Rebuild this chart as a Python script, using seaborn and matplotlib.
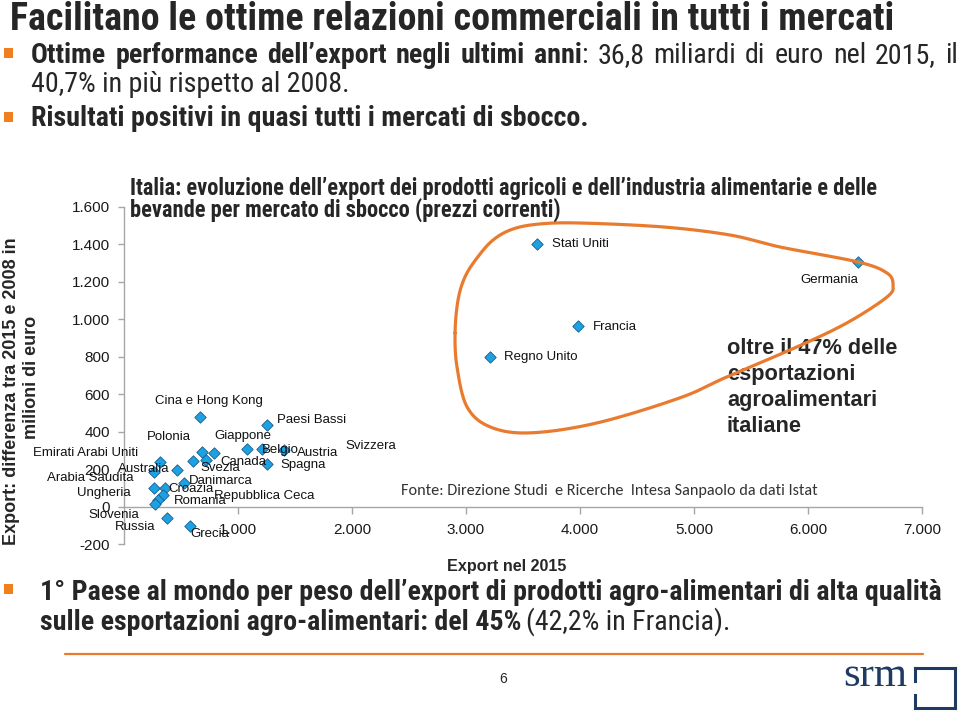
import os
import matplotlib
matplotlib.use("Agg")
import numpy as np
import pandas as pd
import matplotlib.pyplot as plt
import seaborn as sns
from matplotlib import font_manager as fm
from matplotlib.font_manager import FontProperties
from matplotlib.lines import Line2D
from matplotlib.patches import Rectangle

# ---------------- data ----------------
countries = ["Germania", "Francia", "Stati Uniti", "Regno Unito",
             "Cina e Hong Kong", "Paesi Bassi", "Belgio", "Austria", "Svizzera",
             "Polonia", "Giappone", "Emirati Arabi Uniti", "Svezia", "Canada",
             "Spagna", "Australia", "Arabia Saudita", "Danimarca", "Ungheria",
             "Croazia", "Romania", "Repubblica Ceca", "Slovenia", "Russia", "Grecia"]
export_2015 = [6440, 3985, 3625, 3210,
               667, 1257, 1082, 1213, 1404,
               682, 789, 316, 603, 719,
               1252, 462, 266, 526, 266,
               360, 339, 301, 272, 375, 579]
diff_2015_2008 = [1307, 964, 1399, 797,
                  477, 436, 306, 306, 299,
                  290, 288, 237, 244, 249,
                  228, 196, 182, 124, 98,
                  98, 62, 36, 14, -59, -103]
x_ticks = [1000, 2000, 3000, 4000, 5000, 6000, 7000]
x_tick_labels = ["1.000", "2.000", "3.000", "4.000", "5.000", "6.000", "7.000"]
y_ticks = [-200, 0, 200, 400, 600, 800, 1000, 1200, 1400, 1600]
y_tick_labels = ["-200", "0", "200", "400", "600", "800", "1.000", "1.200", "1.400", "1.600"]

# label offsets (pixels, left/center anchor) -- layout only
label_offsets = [(-57.6, 18.3), (14.4, 0.7), (14.4, 0), (14, 0),
                 (-45, -16.3), (9.4, -5), (14.4, 0.7), (34.4, 4), (61, -4),
                 (-55, -15), (0, -16.7), (-126.7, -9), (7.3, 7.3), (14, 1.7),
                 (14, 1), (-58.4, -1), (-107.6, 5.6), (5.3, -2.3), (-77.6, 5),
                 (3.3, 1), (11.3, 5.7), (55.7, -3.3), (-66.7, 11), (-51.7, 9), (0.7, 8.3)]

# highlight outline anchor points (data coords, decorative)
outline = [(2904, 926), (2930, 1102), (2991, 1225), (3096, 1326), (3237, 1422),
           (3412, 1481), (3649, 1508), (4000, 1513), (4728, 1492), (5316, 1449),
           (5754, 1385), (6439, 1305), (6693, 1246), (6746, 1182), (6693, 1118),
           (6342, 980), (5904, 852), (5289, 692), (4877, 580), (4149, 446),
           (3561, 393), (3211, 425), (3009, 532), (2921, 745)]

# ---------------- fonts ----------------
sns.set_theme(style="white")
ARIAL = "Liberation Sans"
plt.rcParams["font.family"] = [ARIAL, "DejaVu Sans"]

narrow_files = []
for f in fm.fontManager.ttflist:
    b = os.path.basename(f.fname)
    if ("narrow" in b.lower() or "condensed" in b.lower()) and "italic" not in b.lower() \
            and "oblique" not in b.lower():
        narrow_files.append((f.name, b, f.fname, f.weight))


def pick_narrow():
    for pref in ["Liberation Sans Narrow", "Arial Narrow", "Roboto Condensed", "Open Sans Condensed"]:
        reg = bold = None
        for name, b, path, wt in narrow_files:
            if name != pref:
                continue
            lb = b.lower()
            isbold = "bold" in lb and "semi" not in lb and "extra" not in lb
            isreg = ("regular" in lb or lb.endswith("narrow.ttf") or lb.endswith("condensed.ttf")
                     or "-condensed." in lb) and "bold" not in lb and "light" not in lb \
                and "medium" not in lb and "thin" not in lb and "black" not in lb
            if isbold and bold is None:
                bold = path
            if isreg and reg is None:
                reg = path
        if reg and bold:
            return FontProperties(fname=reg), FontProperties(fname=bold)
    return FontProperties(family=ARIAL), FontProperties(family=ARIAL, weight="bold")


NARROW_R, NARROW_B = pick_narrow()
CAL = "Carlito" if any(f.name == "Carlito" for f in fm.fontManager.ttflist) else "Lato"

W, H = 960, 712
fig = plt.figure(figsize=(9.6, 7.12), dpi=100)
fig.patch.set_facecolor("white")
renderer = fig.canvas.get_renderer()

ORANGE = "#E97B2E"


def fx(x):
    return x / W


def fy(y):
    return 1 - y / H


def text_w(t):
    return t.get_window_extent(renderer).width


def mkprops(family, weight):
    if family == "NARROW":
        return (NARROW_B if weight == "bold" else NARROW_R).copy()
    return FontProperties(family=[family, "DejaVu Sans"], weight=weight)


def put(x, y, s, size, family, weight="normal", ha="left", va="center", **kw):
    fp = mkprops(family, weight)
    fp.set_size(size)
    return fig.text(fx(x), fy(y), s, fontproperties=fp, ha=ha, va=va, **kw)


def fit(x, y, s, width, family, weight="normal", ha="left", va="center", rotation=0, **kw):
    t = put(x, y, s, 20, family, weight, ha=ha, va=va, **kw)
    w = text_w(t)
    size = 20 * width / w
    t.set_fontsize(size)
    t.set_rotation(rotation)
    return t, size


def baseline(yc, size):
    return yc + 0.35 * size * 100 / 72


# ---------------- axes ----------------
x0, x1 = 124, 922
y_top, y_bot = 206.7, 544
ax = fig.add_axes([fx(x0), fy(y_bot), (x1 - x0) / W, (y_bot - y_top) / H])
ax.patch.set_alpha(0)

df = pd.DataFrame({"paese": countries, "export": export_2015, "diff": diff_2015_2008})
sns.scatterplot(data=df, x="export", y="diff", marker="D", s=34, color="#1CA2E2",
                edgecolor="#1F5A8A", linewidth=0.6, ax=ax, zorder=3, legend=False)

ax.set_xlim(0, 7000)
ax.set_ylim(-200, 1600)
for sp in ["top", "right"]:
    ax.spines[sp].set_visible(False)
ax.spines["bottom"].set_position(("data", 0))
for sp in ["left", "bottom"]:
    ax.spines[sp].set_color("#A6A6A6")
    ax.spines[sp].set_linewidth(1.0)
ax.set_xticks(x_ticks)
ax.set_xticklabels(x_tick_labels)
ax.set_yticks(y_ticks)
ax.set_yticklabels(y_tick_labels)
ax.tick_params(axis="x", direction="out", length=5, width=1, color="#A6A6A6", pad=7,
               labelsize=11, labelcolor="#1A1A1A")
ax.tick_params(axis="y", direction="out", length=4, width=1, color="#A6A6A6", pad=6,
               labelsize=11, labelcolor="#1A1A1A")
ax.tick_params(left=True, bottom=True)
ax.set_xlabel("")
ax.set_ylabel("")
ax.grid(False)

for name, xv, yv, (dx, dy) in zip(countries, export_2015, diff_2015_2008, label_offsets):
    ax.annotate(name, (xv, yv), xytext=(dx, -dy), textcoords="offset pixels",
                ha="left", va="center", fontsize=9.5, color="#111111",
                family=[ARIAL, "DejaVu Sans"], annotation_clip=False, zorder=4)


# closed smooth outline (Catmull-Rom)
def closed_cr(pts, n=24):
    P = np.asarray(pts, dtype=float)
    m = len(P)
    segs = []
    t = np.linspace(0, 1, n, endpoint=False)[:, None]
    for i in range(m):
        p0, p1, p2, p3 = P[i - 1], P[i], P[(i + 1) % m], P[(i + 2) % m]
        segs.append(0.5 * (2 * p1 + (-p0 + p2) * t + (2 * p0 - 5 * p1 + 4 * p2 - p3) * t ** 2
                           + (-p0 + 3 * p1 - 3 * p2 + p3) * t ** 3))
    out = np.vstack(segs)
    return np.vstack([out, out[:1]])


curve = closed_cr(outline)
ax.plot(curve[:, 0], curve[:, 1], color=ORANGE, lw=2.3, zorder=6, clip_on=False)

# ---------------- slide texts ----------------
title, _ = fit(10, 29.5, "Facilitano le ottime relazioni commerciali in tutti i mercati", 880,
               "NARROW", weight="bold", va="baseline")

# bullet font size from bottom bullet line
b1, SB = fit(40, 592, "1° Paese al mondo per peso dell’export di prodotti agro-alimentari di alta qualità",
             898, "NARROW", weight="bold")

# line 2 of bottom bullet (mixed styles, shared baseline)
yb = baseline(620, SB)
tb = put(40, yb, "sulle esportazioni agro-alimentari: del 45%", SB, "NARROW", weight="bold",
         va="baseline")
wb = text_w(tb)
put(40 + wb + 0.2 * SB, yb, "(42,2% in Francia).", SB, "NARROW", va="baseline")

# bullet 1 line 1 justified
tokens = [[("Ottime", "bold")], [("performance", "bold")], [("dell’export", "bold")],
          [("negli", "bold")], [("ultimi", "bold")], [("anni", "bold"), (":", "normal")],
          [("36,8", "normal")], [("miliardi", "normal")], [("di", "normal")],
          [("euro", "normal")], [("nel", "normal")], [("2015,", "normal")], [("il", "normal")]]
y1 = baseline(53, SB)
made = []
total = 0
for tok in tokens:
    parts = []
    for s, wgt in tok:
        t = put(0, y1, s, SB, "NARROW", weight=wgt, va="baseline")
        w = text_w(t)
        parts.append((t, w))
        total += w
    made.append(parts)
gap = (958 - 31 - total) / (len(tokens) - 1)
cx = 31
for parts in made:
    for t, w in parts:
        t.set_x(fx(cx))
        cx += w
    cx += gap

put(31, 85, "40,7% in più rispetto al 2008.", SB, "NARROW")
put(31, 118, "Risultati positivi in quasi tutti i mercati di sbocco.", SB, "NARROW", weight="bold")

# bullet squares
for by in [53, 117, 589]:
    fig.add_artist(Rectangle((fx(4), fy(by + 5)), 9 / W, 10 / H, transform=fig.transFigure,
                             facecolor="#F07F1D", edgecolor="none"))

# chart title
ct, CS = fit(130, 188, "Italia: evoluzione dell’export dei prodotti agricoli e dell’industria alimentarie e delle",
             750, "NARROW", weight="bold")
put(130, 210, "bevande per mercato di sbocco (prezzi correnti)", CS, "NARROW", weight="bold")

# y axis title
yl, YS = fit(12, 391, "Export: differenza tra 2015 e 2008 in", 307, ARIAL, weight="bold",
             ha="center", rotation=90)
put(32, 377, "milioni di euro", YS, ARIAL, weight="bold", ha="center", rotation=90)

# x axis title
fit(506.5, 566, "Export nel 2015", 119, ARIAL, weight="bold", ha="center")

# source
fit(401, 491, "Fonte: Direzione Studi  e Ricerche  Intesa Sanpaolo da dati Istat", 415, CAL,
    color="#333333")

# callout text (drawn below the outline)
ot, OS = fit(727, 348, "oltre il 47% delle", 170, ARIAL, weight="bold")
ot.set_zorder(2)
for i, s in enumerate(["esportazioni", "agroalimentari", "italiane"]):
    t = put(727, 348 + 26.3 * (i + 1), s, OS, ARIAL, weight="bold")
    t.set_zorder(2)
ax.set_zorder(3)

# footer
fig.add_artist(Line2D([fx(65), fx(923)], [fy(654), fy(654)], transform=fig.transFigure,
                      color=ORANGE, lw=1.6))
put(503, 679, "6", 10, ARIAL, ha="center")
NAVY = "#1F3A63"
fit(843, 676, "srm", 64, "Liberation Serif", color=NAVY)
for xs, ys in [([915, 955], [668, 668]), ([955, 955], [668, 708]), ([955, 915], [708, 708]),
               ([915, 915], [668, 681]), ([915, 915], [695, 708])]:
    fig.add_artist(Line2D([fx(v) for v in xs], [fy(v) for v in ys], transform=fig.transFigure,
                          color=NAVY, lw=2.2, solid_capstyle="projecting"))

fig.savefig("out.png", dpi=100, facecolor="white")
